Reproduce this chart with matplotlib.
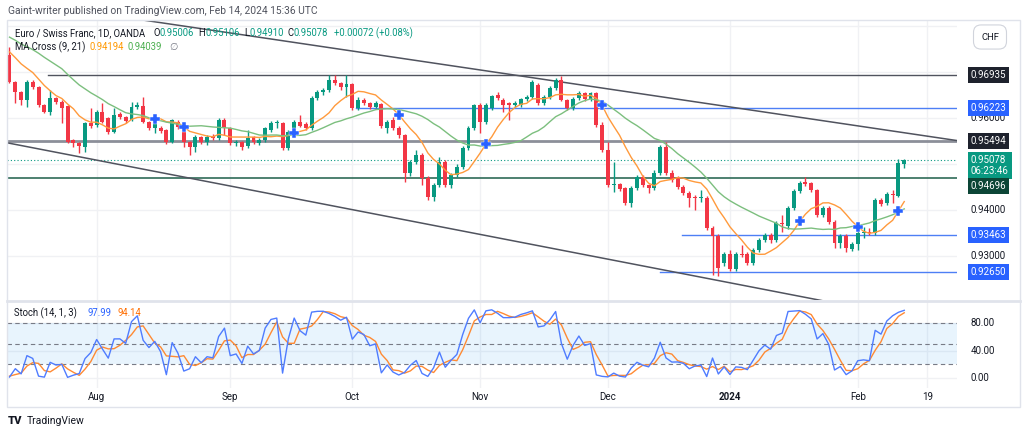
import numpy as np
import pandas as pd
import matplotlib
matplotlib.use("Agg")
import matplotlib.pyplot as plt
from matplotlib.patches import Rectangle
from matplotlib.lines import Line2D
from matplotlib.transforms import blended_transform_factory

plt.rcParams['font.family'] = ['Roboto', 'DejaVu Sans']

# EUR/CHF daily bars, Jul 11 2023 -> Feb 14 2024 (no bar on Jan 1)
dates = [d for d in pd.bdate_range("2023-07-11", "2024-02-14") if d != pd.Timestamp("2024-01-01")]

opens = [0.9737, 0.9678, 0.9657, 0.9639, 0.9678, 0.9667, 0.9628, 0.9613, 0.9643, 0.9635,
         0.9626, 0.9552, 0.9546, 0.9537, 0.9589, 0.9585, 0.9613, 0.9600, 0.9570, 0.9609,
         0.9602, 0.9596, 0.9624, 0.9626, 0.9591, 0.9578, 0.9578, 0.9574, 0.9548, 0.9591,
         0.9580, 0.9548, 0.9537, 0.9559, 0.9548, 0.9561, 0.9557, 0.9596, 0.9578, 0.9546,
         0.9548, 0.9539, 0.9559, 0.9546, 0.9552, 0.9574, 0.9589, 0.9589, 0.9535, 0.9570,
         0.9591, 0.9587, 0.9578, 0.9643, 0.9657, 0.9661, 0.9683, 0.9676, 0.9667, 0.9674,
         0.9622, 0.9639, 0.9633, 0.9624, 0.9630, 0.9578, 0.9596, 0.9578, 0.9563, 0.9480,
         0.9504, 0.9520, 0.9470, 0.9428, 0.9454, 0.9504, 0.9454, 0.9476, 0.9493, 0.9535,
         0.9578, 0.9628, 0.9591, 0.9622, 0.9650, 0.9639, 0.9633, 0.9628, 0.9628, 0.9641,
         0.9646, 0.9672, 0.9633, 0.9646, 0.9665, 0.9683, 0.9639, 0.9622, 0.9643, 0.9654,
         0.9641, 0.9654, 0.9585, 0.9530, 0.9454, 0.9457, 0.9448, 0.9415, 0.9448, 0.9472,
         0.9454, 0.9448, 0.9480, 0.9537, 0.9480, 0.9470, 0.9450, 0.9437, 0.9428, 0.9426,
         0.9426, 0.9361, 0.9343, 0.9285, 0.9304, 0.9272, 0.9304, 0.9304, 0.9285, 0.9313,
         0.9335, 0.9346, 0.9335, 0.9372, 0.9365, 0.9404, 0.9441, 0.9461, 0.9459, 0.9443,
         0.9389, 0.9404, 0.9374, 0.9328, 0.9343, 0.9315, 0.9326, 0.9350, 0.9352, 0.9350,
         0.9422, 0.9415, 0.9435, 0.9430, 0.95006]
highs = [0.9754, 0.9680, 0.9659, 0.9683, 0.9683, 0.9670, 0.9630, 0.9661, 0.9646, 0.9639,
         0.9628, 0.9554, 0.9548, 0.9591, 0.9622, 0.9617, 0.9633, 0.9602, 0.9622, 0.9613,
         0.9604, 0.9635, 0.9635, 0.9646, 0.9593, 0.9593, 0.9583, 0.9576, 0.9598, 0.9596,
         0.9583, 0.9550, 0.9563, 0.9561, 0.9563, 0.9565, 0.9600, 0.9600, 0.9580, 0.9552,
         0.9550, 0.9574, 0.9561, 0.9557, 0.9580, 0.9593, 0.9596, 0.9591, 0.9574, 0.9596,
         0.9607, 0.9591, 0.9648, 0.9661, 0.9665, 0.9693, 0.9693, 0.9678, 0.9693, 0.9676,
         0.9646, 0.9643, 0.9635, 0.9637, 0.9633, 0.9596, 0.9602, 0.9583, 0.9565, 0.9509,
         0.9530, 0.9524, 0.9474, 0.9459, 0.9515, 0.9509, 0.9480, 0.9500, 0.9539, 0.9583,
         0.9630, 0.9633, 0.9633, 0.9650, 0.9657, 0.9643, 0.9635, 0.9637, 0.9643, 0.9650,
         0.9683, 0.9676, 0.9650, 0.9670, 0.9687, 0.9691, 0.9641, 0.9646, 0.9659, 0.9657,
         0.9657, 0.9657, 0.9591, 0.9548, 0.9504, 0.9459, 0.9450, 0.9452, 0.9476, 0.9476,
         0.9457, 0.9487, 0.9541, 0.9548, 0.9487, 0.9474, 0.9454, 0.9441, 0.9433, 0.9443,
         0.9430, 0.9365, 0.9348, 0.9309, 0.9313, 0.9309, 0.9324, 0.9309, 0.9317, 0.9339,
         0.9350, 0.9350, 0.9376, 0.9389, 0.9409, 0.9446, 0.9463, 0.9472, 0.9461, 0.9446,
         0.9409, 0.9409, 0.9378, 0.9348, 0.9348, 0.9330, 0.9357, 0.9363, 0.9361, 0.9426,
         0.9426, 0.9439, 0.9443, 0.9511, 0.95106]
lows = [0.9676, 0.9633, 0.9628, 0.9624, 0.9663, 0.9624, 0.9611, 0.9607, 0.9630, 0.9589,
        0.9546, 0.9537, 0.9524, 0.9526, 0.9578, 0.9580, 0.9589, 0.9565, 0.9567, 0.9598,
        0.9589, 0.9593, 0.9620, 0.9589, 0.9574, 0.9567, 0.9567, 0.9543, 0.9546, 0.9576,
        0.9537, 0.9520, 0.9526, 0.9543, 0.9541, 0.9552, 0.9552, 0.9563, 0.9541, 0.9539,
        0.9530, 0.9535, 0.9543, 0.9541, 0.9548, 0.9570, 0.9578, 0.9530, 0.9530, 0.9563,
        0.9580, 0.9574, 0.9574, 0.9639, 0.9650, 0.9657, 0.9672, 0.9661, 0.9646, 0.9617,
        0.9617, 0.9628, 0.9620, 0.9622, 0.9578, 0.9567, 0.9574, 0.9557, 0.9461, 0.9474,
        0.9500, 0.9454, 0.9422, 0.9420, 0.9450, 0.9450, 0.9448, 0.9472, 0.9489, 0.9530,
        0.9574, 0.9567, 0.9587, 0.9617, 0.9639, 0.9613, 0.9596, 0.9624, 0.9624, 0.9637,
        0.9641, 0.9628, 0.9628, 0.9641, 0.9661, 0.9637, 0.9617, 0.9617, 0.9639, 0.9637,
        0.9637, 0.9580, 0.9526, 0.9450, 0.9439, 0.9441, 0.9411, 0.9407, 0.9443, 0.9450,
        0.9437, 0.9443, 0.9476, 0.9476, 0.9461, 0.9446, 0.9433, 0.9407, 0.9400, 0.9417,
        0.9357, 0.9259, 0.9257, 0.9278, 0.9267, 0.9267, 0.9298, 0.9280, 0.9280, 0.9309,
        0.9330, 0.9328, 0.9330, 0.9352, 0.9359, 0.9400, 0.9437, 0.9452, 0.9439, 0.9385,
        0.9385, 0.9370, 0.9317, 0.9317, 0.9309, 0.9311, 0.9313, 0.9339, 0.9346, 0.9346,
        0.9409, 0.9411, 0.9415, 0.9428, 0.94910]
closes = [0.9678, 0.9657, 0.9639, 0.9678, 0.9667, 0.9628, 0.9613, 0.9643, 0.9635, 0.9622,
          0.9548, 0.9546, 0.9539, 0.9589, 0.9583, 0.9613, 0.9591, 0.9570, 0.9607, 0.9602,
          0.9593, 0.9624, 0.9628, 0.9591, 0.9578, 0.9589, 0.9572, 0.9548, 0.9596, 0.9580,
          0.9548, 0.9537, 0.9559, 0.9548, 0.9559, 0.9557, 0.9596, 0.9578, 0.9546, 0.9548,
          0.9537, 0.9557, 0.9548, 0.9552, 0.9578, 0.9589, 0.9591, 0.9535, 0.9570, 0.9591,
          0.9583, 0.9578, 0.9643, 0.9657, 0.9661, 0.9683, 0.9676, 0.9667, 0.9674, 0.9622,
          0.9639, 0.9633, 0.9624, 0.9633, 0.9583, 0.9591, 0.9578, 0.9563, 0.9480, 0.9504,
          0.9520, 0.9470, 0.9428, 0.9454, 0.9504, 0.9454, 0.9476, 0.9493, 0.9535, 0.9578,
          0.9628, 0.9591, 0.9628, 0.9648, 0.9643, 0.9628, 0.9628, 0.9633, 0.9641, 0.9646,
          0.9678, 0.9633, 0.9646, 0.9665, 0.9683, 0.9639, 0.9622, 0.9641, 0.9654, 0.9641,
          0.9654, 0.9585, 0.9530, 0.9454, 0.9457, 0.9446, 0.9415, 0.9448, 0.9472, 0.9454,
          0.9448, 0.9480, 0.9537, 0.9480, 0.9465, 0.9450, 0.9437, 0.9426, 0.9426, 0.9428,
          0.9361, 0.9343, 0.9274, 0.9304, 0.9272, 0.9304, 0.9302, 0.9285, 0.9313, 0.9335,
          0.9346, 0.9335, 0.9372, 0.9370, 0.9404, 0.9441, 0.9459, 0.9457, 0.9443, 0.9389,
          0.9404, 0.9374, 0.9328, 0.9343, 0.9317, 0.9326, 0.9350, 0.9352, 0.9350, 0.9422,
          0.9413, 0.9435, 0.9433, 0.9502, 0.95078]

# closes before the visible window (needed to start the moving averages / stoch)
prior_close = [0.9800, 0.9812, 0.9795, 0.9805, 0.9790, 0.9802, 0.9815, 0.9808, 0.9795, 0.9810,
               0.9790, 0.9775, 0.9770, 0.9760, 0.9765, 0.9750, 0.9755, 0.9740, 0.9745, 0.9730]

# bars where the MA cross marker is shown
cross_bars = [25, 30, 49, 67, 82, 102, 136, 146, 153]

# horizontal levels drawn on the chart: price, first bar, colour, width
levels = [0.96935, 0.96223, 0.95494, 0.94696, 0.93463, 0.92650]
level_from = [6.6, 59.6, -1, -1, 115.7, 112.0]
level_color = ['#50535e', '#4d7ff5', '#8c8f99', '#2f6b57', '#4d7ff5', '#4d7ff5']
level_lw = [1.0, 1.0, 2.0, 1.2, 1.0, 1.0]

# trend lines (bar index, price) anchors
upper_trend = [(69.4, 0.97261), (160.1, 0.95565)]
lower_trend = [(-0.26, 0.95457), (130.4, 0.92261)]

month_labels = ["Aug", "Sep", "Oct", "Nov", "Dec", "2024", "Feb", "19"]
month_dates = ["2023-08-01", "2023-09-01", "2023-10-02", "2023-11-01", "2023-12-01",
               "2024-01-02", "2024-02-01", "2024-02-19"]

price_ticks = [0.96, 0.94, 0.93]
price_tags = [(0.96935, "0.96935", '#1e222d', 0),
              (0.96223, "0.96223", '#2962ff', 0),
              (0.95494, "0.95494", '#1e222d', 0),
              (0.95078, "0.95078\n06:23:46", '#089981', 5),
              (0.94696, "0.94696", '#0c4536', 8),
              (0.93463, "0.93463", '#2962ff', 0),
              (0.92650, "0.92650", '#2962ff', 0)]
stoch_ticks = [80, 40, 0]

GREEN, RED = '#089981', '#f23645'
W, H = 1024, 436
fig = plt.figure(figsize=(W / 100, H / 100), dpi=100)


def fx(px):
    return px / W


def fy(py):
    return 1 - py / H


ax = fig.add_axes([fx(7), fy(300), fx(950), 280 / H])
st = fig.add_axes([fx(7), fy(388), fx(950), 86 / H])
for a in (ax, st):
    a.set_xlim(-0.43, 163.08)
    a.set_xticks([])
    a.set_yticks([])
    for s in a.spines.values():
        s.set_visible(False)
ax.set_ylim(0.920435, 0.98130)
st.set_ylim(-14.5, 110.5)

cal = [d for d in pd.bdate_range("2023-07-11", "2024-03-01") if d != pd.Timestamp("2024-01-01")]
cal = pd.DatetimeIndex(cal)
month_idx = [cal.get_loc(pd.Timestamp(d)) for d in month_dates]

# grid
for a in (ax, st):
    for m in month_idx:
        a.axvline(m, color='#f0f1f4', lw=1, zorder=0)
for p in np.arange(0.92, 0.985, 0.01):
    ax.axhline(p, color='#f0f1f4', lw=1, zorder=0)
for v in stoch_ticks:
    st.axhline(v, color='#f0f1f4', lw=1, zorder=0)

# candles
o, h, l, c = map(np.array, (opens, highs, lows, closes))
xs = np.arange(len(c))
col = np.where(c >= o, GREEN, RED)
ax.vlines(xs, l, h, colors=col, lw=1, zorder=3)
ax.bar(xs, np.maximum(np.abs(c - o), 0.00007), bottom=np.minimum(o, c), width=0.68,
       color=col, lw=0, zorder=4)

# levels and trend lines
for p, x0, cl, lw in zip(levels, level_from, level_color, level_lw):
    ax.plot([x0, 170], [p, p], color=cl, lw=lw, zorder=2)
ax.axhline(closes[-1], color=GREEN, lw=0.8, ls=(0, (1, 2)), zorder=2)
for (x0, y0), (x1, y1) in (upper_trend, lower_trend):
    k = (y1 - y0) / (x1 - x0)
    ax.plot([-5, 170], [y0 + k * (-5 - x0), y0 + k * (170 - x0)], color='#50535e', lw=1.1, zorder=2)

# MA cross (9, 21)
allc = pd.Series(prior_close + closes)
npre = len(prior_close)
ma9 = allc.rolling(9).mean().to_numpy()[npre:]
ma21 = allc.rolling(21).mean().to_numpy()[npre:]
ax.plot(xs, ma9, color='#ff9a3c', lw=1, zorder=5)
ax.plot(xs, ma21, color='#7cbf7e', lw=1, zorder=5)
ax.plot(cross_bars, ma9[cross_bars], ls='none', marker='P', ms=7.5, color='#2962ff',
        mec='white', mew=0.3, zorder=6)

# Stochastic (14, 1, 3)
hh = pd.Series(prior_close + highs).rolling(14).max()
ll = pd.Series(prior_close + lows).rolling(14).min()
kline = (100 * (allc - ll) / (hh - ll))
dline = kline.rolling(3).mean()
st.axhspan(20, 80, color='#2196f3', alpha=0.1, lw=0, zorder=1)
for v in (80, 50, 20):
    st.axhline(v, color='#787b86', lw=0.8, ls=(0, (4, 3)), zorder=2)
st.plot(xs, kline.to_numpy()[npre:], color='#4f7cff', lw=1, zorder=4)
st.plot(xs, dline.to_numpy()[npre:], color='#ff8a33', lw=1, zorder=3)

# right price scale
tr = blended_transform_factory(ax.transAxes, ax.transData)
for p in price_ticks:
    ax.text(1.0145, p, f"{p:.5f}", transform=tr, ha='left', va='center', fontsize=7, color='#131722')
for p, txt, fc, dy in price_tags:
    ax.annotate(txt, xy=(1.0145, p), xycoords=tr, xytext=(0, -dy * 0.72), textcoords='offset points',
                ha='left', va='center', fontsize=7, color='white', linespacing=1.05,
                bbox=dict(boxstyle='square,pad=0.3', fc=fc, ec='none'), annotation_clip=False)
trs = blended_transform_factory(st.transAxes, st.transData)
for v in stoch_ticks:
    st.text(1.0145, v, f"{v:.2f}", transform=trs, ha='left', va='center', fontsize=7, color='#131722')

# time axis
trx = blended_transform_factory(st.transData, fig.transFigure)
for lab, m in zip(month_labels, month_idx):
    st.text(m, fy(397), lab, transform=trx, ha='center', va='center', fontsize=7, color='#131722',
            fontweight='bold' if lab == "2024" else 'normal')

# frame
fig.add_artist(Rectangle((fx(7), fy(407)), fx(1013), 387 / H, transform=fig.transFigure,
                         fill=False, ec='#e0e3eb', lw=1))
fig.add_artist(Line2D([fx(7), fx(1020)], [fy(301), fy(301)], transform=fig.transFigure, color='#e0e3eb', lw=2))

# header texts
fig.text(fx(8), fy(11), "Gaint-writer published on TradingView.com, Feb 14, 2024 15:36 UTC",
         fontsize=7.4, color='#50535e', va='center')
hdr = [(15, "Euro / Swiss Franc, 1D, OANDA", '#131722'), (153, "O", '#131722'), (160, "0.95006", GREEN),
       (198, "H", '#131722'), (205, "0.95106", GREEN), (244, "L", '#131722'), (250, "0.94910", GREEN),
       (288, "C", '#131722'), (294, "0.95078", GREEN), (334, "+0.00072 (+0.08%)", GREEN)]
for x0, t, cl in hdr:
    fig.text(fx(x0), fy(33), t, fontsize=6.85, color=cl, va='center')
for x0, t, cl in [(15, "MA Cross (9, 21)", '#131722'), (90, "0.94194", '#ff9800'),
                  (128, "0.94039", '#4caf50'), (169, "\u2205", '#787b86')]:
    fig.text(fx(x0), fy(47), t, fontsize=6.85, color=cl, va='center')
for x0, t, cl in [(14, "Stoch (14, 1, 3)", '#131722'), (87, "97.99", '#2962ff'), (117, "94.14", '#ff6d00')]:
    fig.text(fx(x0), fy(313), t, fontsize=6.85, color=cl, va='center')
fig.text(fx(990), fy(37), "CHF", fontsize=6.8, color='#131722', ha='center', va='center',
         bbox=dict(boxstyle='round,pad=0.8', fc='white', ec='#d1d4dc', lw=0.8))
fig.text(fx(8), fy(421), "TV", fontsize=8, fontweight='heavy', color='#131722', va='center')
fig.text(fx(27), fy(421), "TradingView", fontsize=7.5, color='#131722', va='center')

fig.savefig("out.png", dpi=100, facecolor='white')
